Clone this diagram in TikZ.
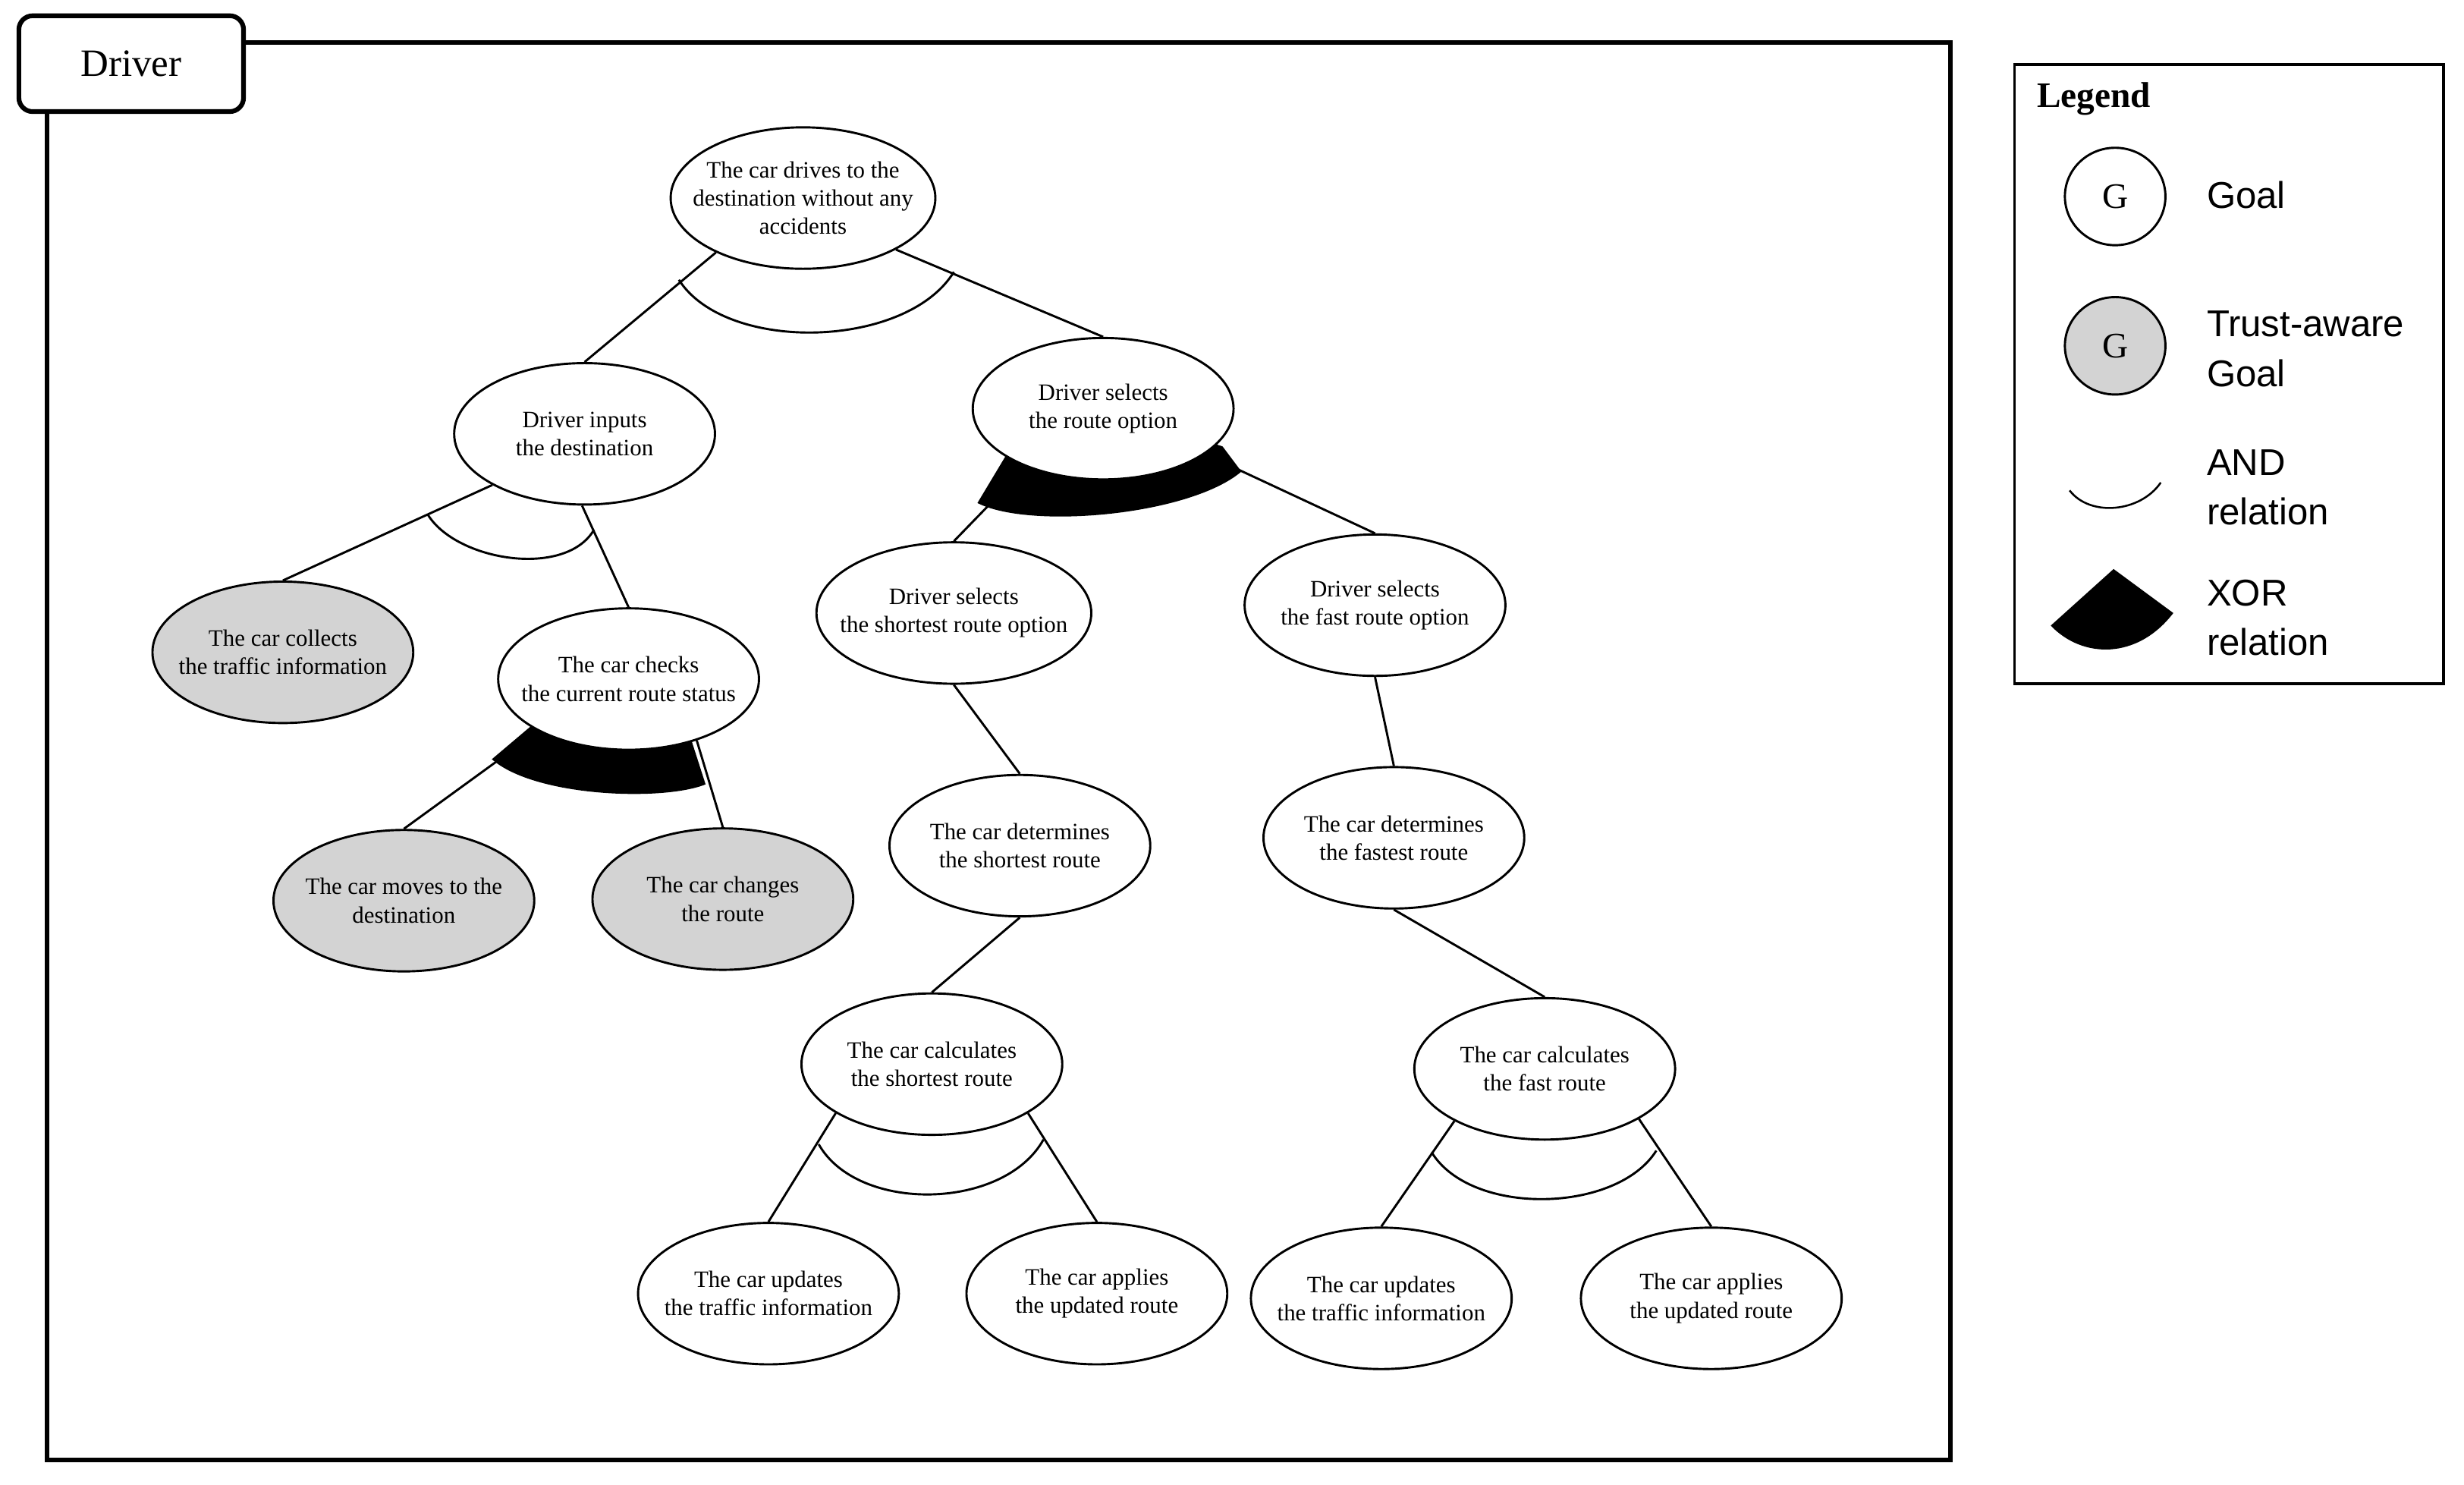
\documentclass[tikz,border=0pt]{standalone}
\usepackage{fontspec}
\setmainfont{Liberation Serif}
\newfontfamily\lsans{Liberation Sans}
\usetikzlibrary{shapes.geometric}
\definecolor{tgray}{RGB}{211,211,211}
\begin{document}
\begin{tikzpicture}[x=0.02cm,y=-0.02cm,
  goal/.style={ellipse,draw,line width=0.8pt,fill=white,minimum width=3.32cm,minimum height=1.8cm,inner xsep=-6pt,inner ysep=0pt,align=center,font=\fontsize{8.5}{10.2}\selectfont},
  tgoal/.style={goal,fill=tgray},
  edge/.style={line width=0.8pt},
  andrel/.style={line width=0.8pt},
  xorrel/.style={fill=black}]
\useasboundingbox (0,0) rectangle (1568,944.3);
% frames
\draw[line width=1.7pt] (30,27) rectangle (1241,929);
\node[draw,line width=1.7pt,rounded corners=5pt,fill=white,minimum width=2.86cm,minimum height=1.22cm,font=\fontsize{14}{16}\selectfont] (drv) at (83.5,40.5) {Driver};
% XOR fills
\fill[xorrel] (640,290) -- (622,320) .. controls (655,337) and (757,328) .. (790,300) -- (778,284) -- (702,260) -- cycle;
\fill[xorrel] (339,461) -- (313,483) .. controls (340,507) and (422,510) .. (449,499) -- (440,471) -- (400,432) -- cycle;
% nodes
\node[goal] (root) at (511,126) {The car drives to the\\destination without any\\accidents};
\node[goal] (inputs) at (372,276) {Driver inputs\\the destination};
\node[goal] (route) at (702,260) {Driver selects\\the route option};
\node[tgoal] (collects) at (180,415) {The car collects\\the traffic information};
\node[goal] (checks) at (400,432) {The car checks\\the current route status};
\node[tgoal] (moves) at (257,573) {The car moves to the\\destination};
\node[tgoal] (changes) at (460,572) {The car changes\\the route};
\node[goal] (shortopt) at (607,390) {Driver selects\\the shortest route option};
\node[goal] (fastopt) at (875,385) {Driver selects\\the fast route option};
\node[goal] (detshort) at (649,538) {The car determines\\the shortest route};
\node[goal] (detfast) at (887,533) {The car determines\\the fastest route};
\node[goal] (calcshort) at (593,677) {The car calculates\\the shortest route};
\node[goal] (calcfast) at (983,680) {The car calculates\\the fast route};
\node[goal] (upd1) at (489,823) {The car updates\\the traffic information};
\node[goal] (app1) at (698,823) {The car applies\\the updated route};
\node[goal] (upd2) at (879,826) {The car updates\\the traffic information};
\node[goal] (app2) at (1089,826) {The car applies\\the updated route};
% edges
\draw[edge] (root.212) -- (inputs.north);
\draw[edge] (root.331) -- (route.north);
\draw[edge] (inputs.209) -- (collects.north);
\draw[edge] (inputs.268) -- (checks.north);
\draw[edge] (route.217) -- (shortopt.north);
\draw[edge] (route.336) -- (fastopt.north);
\draw[edge] (checks.210) -- (moves.north);
\draw[edge] (checks.318) -- (changes.north);
\draw[edge] (shortopt.south) -- (detshort.north);
\draw[edge] (fastopt.south) -- (detfast.north);
\draw[edge] (detshort.south) -- (calcshort.north);
\draw[edge] (detfast.south) -- (calcfast.north);
\draw[edge] (calcshort.207) -- (upd1.north);
\draw[edge] (calcshort.333) -- (app1.north);
\draw[edge] (calcfast.210) -- (upd2.north);
\draw[edge] (calcfast.332) -- (app2.north);
% AND arcs
\draw[andrel] (432,178) .. controls (462,225) and (577,222) .. (607,173);
\draw[andrel] (272,327) .. controls (290,357) and (360,368) .. (378,337);
\draw[andrel] (521,728) .. controls (546,772) and (639,770) .. (664,725);
\draw[andrel] (911,733) .. controls (936,774) and (1029,772) .. (1054,732);
% legend
\draw[line width=1pt] (1282,41) rectangle (1555,435);
\node[anchor=west,font=\fontsize{13}{15}\selectfont\bfseries] (lgt) at (1290,63) {Legend};
\node[ellipse,draw,line width=0.8pt,minimum width=1.28cm,minimum height=1.24cm,inner sep=0pt,font=\fontsize{13}{15}\selectfont] (lg1) at (1346,125) {G};
\node[ellipse,draw,line width=0.8pt,fill=tgray,minimum width=1.28cm,minimum height=1.24cm,inner sep=0pt,font=\fontsize{13}{15}\selectfont] (lg2) at (1346,220) {G};
\draw[line width=0.7pt] (1317,312) .. controls (1330,329) and (1362,326) .. (1375,307);
\fill (1345,362) -- (1383,390) .. controls (1360,420) and (1325,419) .. (1305,398) -- cycle;
\begin{scope}[every node/.style={anchor=west,align=left,font=\lsans\fontsize{13.5}{18}\selectfont,inner sep=0pt}]
\node (lt1) at (1404,124) {Goal};
\node (lt2) at (1404,222) {Trust-aware\\Goal};
\node (lt3) at (1404,310) {AND\\relation};
\node (lt4) at (1404,393) {XOR\\relation};
\end{scope}
\end{tikzpicture}
\end{document}
